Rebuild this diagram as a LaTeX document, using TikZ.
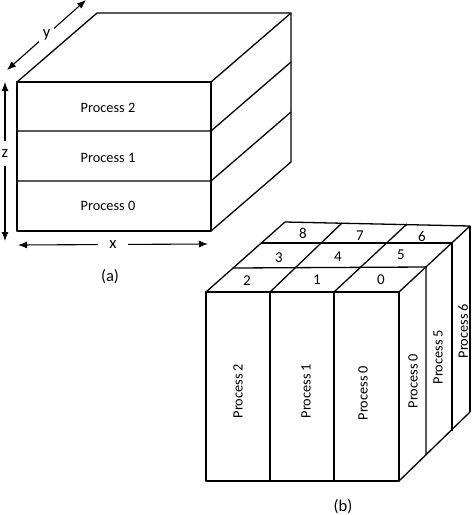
\documentclass[tikz,border=0pt]{standalone}
\usepackage{fontspec}
\setmainfont{Carlito}
\usetikzlibrary{arrows.meta,calc}
\begin{document}
\begin{tikzpicture}[x=1pt,y=-1pt,
  edge/.style={line width=1.3pt,line join=round},
  dim/.style={line width=1.1pt,{Latex[length=9pt,width=7pt]}-{Latex[length=9pt,width=7pt]}},
  lbl/.style={font=\fontsize{14.3}{16}\selectfont,inner sep=0pt},
  num/.style={font=\fontsize{15}{17}\selectfont,inner sep=0pt},
  caplbl/.style={font=\fontsize{16.5}{18}\selectfont,inner sep=0pt},
  vlbl/.style={lbl,rotate=90},
  gaplbl/.style={fill=white,inner sep=2pt,font=\fontsize{16.5}{18}\selectfont}]
\useasboundingbox (0,0) rectangle (474,515);
% ---------- (a) ----------
\coordinate (a1) at (17,82);
\coordinate (a2) at (211,82);
\coordinate (a3) at (211,231);
\coordinate (a4) at (17,231);
\coordinate (a5) at (97,13);
\coordinate (a6) at (291,13);
\coordinate (a7) at (291,162);
\coordinate (am1l) at (17,131);
\coordinate (am1r) at (211,131);
\coordinate (am2l) at (17,181);
\coordinate (am2r) at (211,181);
\coordinate (am1b) at (291,62);
\coordinate (am2b) at (291,112);
\draw[edge] (a1) -- (a2) -- (a3) -- (a4) -- cycle;
\draw[edge] (a1) -- (a5) -- (a6) -- (a2);
\draw[edge] (a6) -- (a7) -- (a3);
\draw[edge] (am1l) -- (am1r) -- (am1b);
\draw[edge] (am2l) -- (am2r) -- (am2b);
\node[lbl] (pa2) at (108,108) {Process 2};
\node[lbl] (pa1) at (108,158) {Process 1};
\node[lbl] (pa0) at (108,206) {Process 0};
% dimension arrows
\coordinate (yA) at (7,70);
\coordinate (yB) at (86,0);
\draw[dim] (yA) -- node[gaplbl,inner sep=4pt] (ylab) {y} (yB);
\coordinate (zA) at (5,82);
\coordinate (zB) at (5,241);
\draw[dim] (zA) -- node[gaplbl,pos=0.45,inner ysep=9pt,inner xsep=1pt] (zlab) {z} (zB);
\coordinate (xA) at (18,245);
\coordinate (xB) at (208,244);
\draw[dim] (xA) -- node[gaplbl,inner xsep=11pt] (xlab) {x} (xB);
\node[caplbl] (capa) at (110,277) {(a)};
% ---------- (b) ----------
\coordinate (f0) at (206,292);
\coordinate (f1) at (270,292);
\coordinate (f2) at (334,292);
\coordinate (f3) at (399,292);
\coordinate (g0) at (206,481);
\coordinate (g1) at (270,481);
\coordinate (g2) at (334,481);
\coordinate (g3) at (399,481);
\coordinate (k0) at (285,222);
\coordinate (k1) at (342,223);
\coordinate (k2) at (407,224);
\coordinate (k3) at (470,226);
\coordinate (r1l) at (233,268);
\coordinate (r1r) at (426,267);
\coordinate (r2l) at (261,243);
\coordinate (r2r) at (452,243);
\coordinate (s1) at (426,455);
\coordinate (s2) at (452,431);
\coordinate (s3) at (470,412);
\draw[edge] (f0) -- (f3) -- (g3) -- (g0) -- cycle;
\draw[edge] (f1) -- (g1);
\draw[edge] (f2) -- (g2);
\draw[edge] (f0) -- (k0) -- (k3) -- (f3);
\draw[edge] (f1) -- (k1);
\draw[edge] (f2) -- (k2);
\draw[edge] (r1l) -- (r1r) -- (s1);
\draw[edge] (r2l) -- (r2r) -- (s2);
\draw[edge] (g3) -- (s3);
\draw[line width=2.6pt] (k3) -- (s3);
\node[num] (n8) at (303,233) {8};
\node[num] (n7) at (360,236) {7};
\node[num] (n6) at (422,236) {6};
\node[num] (n3) at (279,258) {3};
\node[num] (n4) at (338,257) {4};
\node[num] (n5) at (401,255) {5};
\node[num] (n2) at (247,281) {2};
\node[num] (n1) at (317,280) {1};
\node[num] (n0) at (381,280) {0};
\node[vlbl] (pb2) at (238,391) {Process 2};
\node[vlbl] (pb1) at (306,391) {Process 1};
\node[vlbl] (pb0) at (363,393) {Process 0};
\node[vlbl] (pr0) at (413,381) {Process 0};
\node[vlbl] (pr5) at (438,357) {Process 5};
\node[vlbl] (pr6) at (463,331) {Process 6};
\node[caplbl] (capb) at (343,507) {(b)};
\end{tikzpicture}
\end{document}
